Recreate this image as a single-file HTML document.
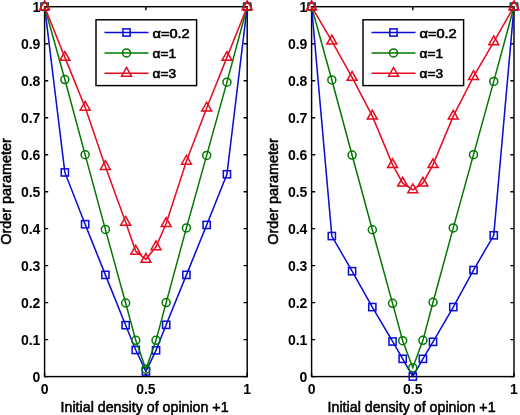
<!DOCTYPE html>
<html><head><meta charset="utf-8"><style>
html,body{margin:0;padding:0;background:#fff;}
svg{display:block;}
text{font-family:"Liberation Sans",sans-serif;fill:#000;}
.yt{font-size:14px;font-weight:bold;}
.xt{font-size:14px;font-weight:bold;}
.lab{font-size:14.3px;font-weight:normal;stroke:#000;stroke-width:0.55px;}
.ylab{font-size:14.5px;font-weight:normal;stroke:#000;stroke-width:0.55px;}
.lg{font-size:12.5px;font-weight:normal;stroke:#000;stroke-width:0.6px;}
</style></head><body>
<svg width="520" height="415" viewBox="0 0 520 415">
<defs><filter id="b" filterUnits="userSpaceOnUse" x="0" y="0" width="520" height="415"><feGaussianBlur stdDeviation="0.35"/></filter></defs>
<rect width="520" height="415" fill="#fff"/>
<g filter="url(#b)">
<rect x="44.6" y="6.7" width="202.6" height="369.9" fill="none" stroke="#000" stroke-width="1.45"/>
<path d="M44.6 376.6h3.6M247.2 376.6h-3.6M44.6 339.61h3.6M247.2 339.61h-3.6M44.6 302.62h3.6M247.2 302.62h-3.6M44.6 265.63h3.6M247.2 265.63h-3.6M44.6 228.64h3.6M247.2 228.64h-3.6M44.6 191.65h3.6M247.2 191.65h-3.6M44.6 154.66h3.6M247.2 154.66h-3.6M44.6 117.67h3.6M247.2 117.67h-3.6M44.6 80.68h3.6M247.2 80.68h-3.6M44.6 43.69h3.6M247.2 43.69h-3.6M44.6 6.7h3.6M247.2 6.7h-3.6M44.6 376.6v-3.6M44.6 6.7v3.6M145.9 376.6v-3.6M145.9 6.7v3.6M247.2 376.6v-3.6M247.2 6.7v3.6" stroke="#000" stroke-width="1.45" fill="none"/>
<text x="40.4" y="381.5" text-anchor="end" class="yt">0</text>
<text x="40.4" y="344.51" text-anchor="end" class="yt">0.1</text>
<text x="40.4" y="307.52" text-anchor="end" class="yt">0.2</text>
<text x="40.4" y="270.53" text-anchor="end" class="yt">0.3</text>
<text x="40.4" y="233.54" text-anchor="end" class="yt">0.4</text>
<text x="40.4" y="196.55" text-anchor="end" class="yt">0.5</text>
<text x="40.4" y="159.56" text-anchor="end" class="yt">0.6</text>
<text x="40.4" y="122.57" text-anchor="end" class="yt">0.7</text>
<text x="40.4" y="85.58" text-anchor="end" class="yt">0.8</text>
<text x="40.4" y="48.59" text-anchor="end" class="yt">0.9</text>
<text x="40.4" y="11.6" text-anchor="end" class="yt">1</text>
<text x="44.6" y="394.2" text-anchor="middle" class="xt">0</text>
<text x="145.9" y="394.2" text-anchor="middle" class="xt">0.5</text>
<text x="247.2" y="394.2" text-anchor="middle" class="xt">1</text>
<polyline points="44.6,6.7 64.86,172.42 85.12,224.2 105.38,274.88 125.64,325.18 135.77,349.97 145.9,371.42 156.03,350.34 166.16,324.81 186.42,274.88 206.68,224.94 226.94,174.26 247.2,6.7" fill="none" stroke="#0808d8" stroke-width="1.5"/>
<rect x="41" y="3.1" width="7.2" height="7.2" fill="none" stroke="#0808d8" stroke-width="1.5"/>
<rect x="61.26" y="168.82" width="7.2" height="7.2" fill="none" stroke="#0808d8" stroke-width="1.5"/>
<rect x="81.52" y="220.6" width="7.2" height="7.2" fill="none" stroke="#0808d8" stroke-width="1.5"/>
<rect x="101.78" y="271.28" width="7.2" height="7.2" fill="none" stroke="#0808d8" stroke-width="1.5"/>
<rect x="122.04" y="321.58" width="7.2" height="7.2" fill="none" stroke="#0808d8" stroke-width="1.5"/>
<rect x="132.17" y="346.37" width="7.2" height="7.2" fill="none" stroke="#0808d8" stroke-width="1.5"/>
<rect x="142.3" y="367.82" width="7.2" height="7.2" fill="none" stroke="#0808d8" stroke-width="1.5"/>
<rect x="152.43" y="346.74" width="7.2" height="7.2" fill="none" stroke="#0808d8" stroke-width="1.5"/>
<rect x="162.56" y="321.21" width="7.2" height="7.2" fill="none" stroke="#0808d8" stroke-width="1.5"/>
<rect x="182.82" y="271.28" width="7.2" height="7.2" fill="none" stroke="#0808d8" stroke-width="1.5"/>
<rect x="203.08" y="221.34" width="7.2" height="7.2" fill="none" stroke="#0808d8" stroke-width="1.5"/>
<rect x="223.34" y="170.66" width="7.2" height="7.2" fill="none" stroke="#0808d8" stroke-width="1.5"/>
<rect x="243.6" y="3.1" width="7.2" height="7.2" fill="none" stroke="#0808d8" stroke-width="1.5"/>
<polyline points="44.6,6.7 64.86,79.57 85.12,154.66 105.38,229.38 125.64,302.99 135.77,340.35 145.9,369.2 156.03,340.35 166.16,302.62 186.42,227.9 206.68,155.4 226.94,82.16 247.2,6.7" fill="none" stroke="#007800" stroke-width="1.5"/>
<circle cx="44.6" cy="6.7" r="4.0" fill="none" stroke="#007800" stroke-width="1.5"/>
<circle cx="64.86" cy="79.57" r="4.0" fill="none" stroke="#007800" stroke-width="1.5"/>
<circle cx="85.12" cy="154.66" r="4.0" fill="none" stroke="#007800" stroke-width="1.5"/>
<circle cx="105.38" cy="229.38" r="4.0" fill="none" stroke="#007800" stroke-width="1.5"/>
<circle cx="125.64" cy="302.99" r="4.0" fill="none" stroke="#007800" stroke-width="1.5"/>
<circle cx="135.77" cy="340.35" r="4.0" fill="none" stroke="#007800" stroke-width="1.5"/>
<circle cx="145.9" cy="369.2" r="4.0" fill="none" stroke="#007800" stroke-width="1.5"/>
<circle cx="156.03" cy="340.35" r="4.0" fill="none" stroke="#007800" stroke-width="1.5"/>
<circle cx="166.16" cy="302.62" r="4.0" fill="none" stroke="#007800" stroke-width="1.5"/>
<circle cx="186.42" cy="227.9" r="4.0" fill="none" stroke="#007800" stroke-width="1.5"/>
<circle cx="206.68" cy="155.4" r="4.0" fill="none" stroke="#007800" stroke-width="1.5"/>
<circle cx="226.94" cy="82.16" r="4.0" fill="none" stroke="#007800" stroke-width="1.5"/>
<circle cx="247.2" cy="6.7" r="4.0" fill="none" stroke="#007800" stroke-width="1.5"/>
<polyline points="44.6,6.7 64.86,57.38 85.12,107.31 105.38,166.5 125.64,222.35 135.77,251.2 145.9,259.34 156.03,246.77 166.16,223.46 186.42,161.32 206.68,108.05 226.94,57.38 247.2,6.7" fill="none" stroke="#e8081e" stroke-width="1.5"/>
<path d="M44.6 0.83L49.55 9.63L39.65 9.63Z" fill="none" stroke="#e8081e" stroke-width="1.5" stroke-linejoin="miter"/>
<path d="M64.86 51.51L69.81 60.31L59.91 60.31Z" fill="none" stroke="#e8081e" stroke-width="1.5" stroke-linejoin="miter"/>
<path d="M85.12 101.45L90.07 110.25L80.17 110.25Z" fill="none" stroke="#e8081e" stroke-width="1.5" stroke-linejoin="miter"/>
<path d="M105.38 160.63L110.33 169.43L100.43 169.43Z" fill="none" stroke="#e8081e" stroke-width="1.5" stroke-linejoin="miter"/>
<path d="M125.64 216.49L130.59 225.29L120.69 225.29Z" fill="none" stroke="#e8081e" stroke-width="1.5" stroke-linejoin="miter"/>
<path d="M135.77 245.34L140.72 254.14L130.82 254.14Z" fill="none" stroke="#e8081e" stroke-width="1.5" stroke-linejoin="miter"/>
<path d="M145.9 253.48L150.85 262.28L140.95 262.28Z" fill="none" stroke="#e8081e" stroke-width="1.5" stroke-linejoin="miter"/>
<path d="M156.03 240.9L160.98 249.7L151.08 249.7Z" fill="none" stroke="#e8081e" stroke-width="1.5" stroke-linejoin="miter"/>
<path d="M166.16 217.59L171.11 226.39L161.21 226.39Z" fill="none" stroke="#e8081e" stroke-width="1.5" stroke-linejoin="miter"/>
<path d="M186.42 155.45L191.37 164.25L181.47 164.25Z" fill="none" stroke="#e8081e" stroke-width="1.5" stroke-linejoin="miter"/>
<path d="M206.68 102.19L211.63 110.99L201.73 110.99Z" fill="none" stroke="#e8081e" stroke-width="1.5" stroke-linejoin="miter"/>
<path d="M226.94 51.51L231.89 60.31L221.99 60.31Z" fill="none" stroke="#e8081e" stroke-width="1.5" stroke-linejoin="miter"/>
<path d="M247.2 0.83L252.15 9.63L242.25 9.63Z" fill="none" stroke="#e8081e" stroke-width="1.5" stroke-linejoin="miter"/>
<rect x="96" y="19.8" width="100.6" height="65.8" fill="#fff" stroke="#000" stroke-width="1.45"/>
<line x1="104.5" y1="32.5" x2="148.5" y2="32.5" stroke="#0808d8" stroke-width="1.5"/>
<rect x="122.9" y="28.9" width="7.2" height="7.2" fill="none" stroke="#0808d8" stroke-width="1.5"/>
<text x="152.5" y="37.5" textLength="37.2" lengthAdjust="spacingAndGlyphs" class="lg">&#945;=0.2</text>
<line x1="104.5" y1="52.9" x2="148.5" y2="52.9" stroke="#007800" stroke-width="1.5"/>
<circle cx="126.5" cy="52.9" r="4.0" fill="none" stroke="#007800" stroke-width="1.5"/>
<text x="152.5" y="57.9" textLength="23.5" lengthAdjust="spacingAndGlyphs" class="lg">&#945;=1</text>
<line x1="104.5" y1="73.3" x2="148.5" y2="73.3" stroke="#e8081e" stroke-width="1.5"/>
<path d="M126.5 67.43L131.45 76.23L121.55 76.23Z" fill="none" stroke="#e8081e" stroke-width="1.5" stroke-linejoin="miter"/>
<text x="152.5" y="78.3" textLength="23.5" lengthAdjust="spacingAndGlyphs" class="lg">&#945;=3</text>
<text x="60.6" y="411.5" textLength="168" lengthAdjust="spacingAndGlyphs" class="lab">Initial density of opinion +1</text>
<text transform="translate(10.6 191.5) rotate(-90)" text-anchor="middle" textLength="106.5" lengthAdjust="spacingAndGlyphs" class="ylab">Order parameter</text>
<rect x="311.6" y="6.7" width="202.4" height="369.9" fill="none" stroke="#000" stroke-width="1.45"/>
<path d="M311.6 376.6h3.6M514.0 376.6h-3.6M311.6 339.61h3.6M514.0 339.61h-3.6M311.6 302.62h3.6M514.0 302.62h-3.6M311.6 265.63h3.6M514.0 265.63h-3.6M311.6 228.64h3.6M514.0 228.64h-3.6M311.6 191.65h3.6M514.0 191.65h-3.6M311.6 154.66h3.6M514.0 154.66h-3.6M311.6 117.67h3.6M514.0 117.67h-3.6M311.6 80.68h3.6M514.0 80.68h-3.6M311.6 43.69h3.6M514.0 43.69h-3.6M311.6 6.7h3.6M514.0 6.7h-3.6M311.6 376.6v-3.6M311.6 6.7v3.6M412.8 376.6v-3.6M412.8 6.7v3.6M514 376.6v-3.6M514 6.7v3.6" stroke="#000" stroke-width="1.45" fill="none"/>
<text x="307.4" y="381.5" text-anchor="end" class="yt">0</text>
<text x="307.4" y="344.51" text-anchor="end" class="yt">0.1</text>
<text x="307.4" y="307.52" text-anchor="end" class="yt">0.2</text>
<text x="307.4" y="270.53" text-anchor="end" class="yt">0.3</text>
<text x="307.4" y="233.54" text-anchor="end" class="yt">0.4</text>
<text x="307.4" y="196.55" text-anchor="end" class="yt">0.5</text>
<text x="307.4" y="159.56" text-anchor="end" class="yt">0.6</text>
<text x="307.4" y="122.57" text-anchor="end" class="yt">0.7</text>
<text x="307.4" y="85.58" text-anchor="end" class="yt">0.8</text>
<text x="307.4" y="48.59" text-anchor="end" class="yt">0.9</text>
<text x="307.4" y="11.6" text-anchor="end" class="yt">1</text>
<text x="311.6" y="394.2" text-anchor="middle" class="xt">0</text>
<text x="412.8" y="394.2" text-anchor="middle" class="xt">0.5</text>
<text x="514" y="394.2" text-anchor="middle" class="xt">1</text>
<polyline points="311.6,6.7 331.84,236.04 352.08,271.18 372.32,307.06 392.56,341.46 402.68,358.84 412.8,376.6 422.92,358.84 433.04,341.83 453.28,307.06 473.52,270.07 493.76,235.3 514,6.7" fill="none" stroke="#0808d8" stroke-width="1.5"/>
<rect x="308" y="3.1" width="7.2" height="7.2" fill="none" stroke="#0808d8" stroke-width="1.5"/>
<rect x="328.24" y="232.44" width="7.2" height="7.2" fill="none" stroke="#0808d8" stroke-width="1.5"/>
<rect x="348.48" y="267.58" width="7.2" height="7.2" fill="none" stroke="#0808d8" stroke-width="1.5"/>
<rect x="368.72" y="303.46" width="7.2" height="7.2" fill="none" stroke="#0808d8" stroke-width="1.5"/>
<rect x="388.96" y="337.86" width="7.2" height="7.2" fill="none" stroke="#0808d8" stroke-width="1.5"/>
<rect x="399.08" y="355.24" width="7.2" height="7.2" fill="none" stroke="#0808d8" stroke-width="1.5"/>
<rect x="409.2" y="373" width="7.2" height="7.2" fill="none" stroke="#0808d8" stroke-width="1.5"/>
<rect x="419.32" y="355.24" width="7.2" height="7.2" fill="none" stroke="#0808d8" stroke-width="1.5"/>
<rect x="429.44" y="338.23" width="7.2" height="7.2" fill="none" stroke="#0808d8" stroke-width="1.5"/>
<rect x="449.68" y="303.46" width="7.2" height="7.2" fill="none" stroke="#0808d8" stroke-width="1.5"/>
<rect x="469.92" y="266.47" width="7.2" height="7.2" fill="none" stroke="#0808d8" stroke-width="1.5"/>
<rect x="490.16" y="231.7" width="7.2" height="7.2" fill="none" stroke="#0808d8" stroke-width="1.5"/>
<rect x="510.4" y="3.1" width="7.2" height="7.2" fill="none" stroke="#0808d8" stroke-width="1.5"/>
<polyline points="311.6,6.7 331.84,79.94 352.08,155.03 372.32,229.75 392.56,303.36 402.68,340.72 412.8,367.72 422.92,340.35 433.04,302.25 453.28,227.9 473.52,154.66 493.76,81.42 514,6.7" fill="none" stroke="#007800" stroke-width="1.5"/>
<circle cx="311.6" cy="6.7" r="4.0" fill="none" stroke="#007800" stroke-width="1.5"/>
<circle cx="331.84" cy="79.94" r="4.0" fill="none" stroke="#007800" stroke-width="1.5"/>
<circle cx="352.08" cy="155.03" r="4.0" fill="none" stroke="#007800" stroke-width="1.5"/>
<circle cx="372.32" cy="229.75" r="4.0" fill="none" stroke="#007800" stroke-width="1.5"/>
<circle cx="392.56" cy="303.36" r="4.0" fill="none" stroke="#007800" stroke-width="1.5"/>
<circle cx="402.68" cy="340.72" r="4.0" fill="none" stroke="#007800" stroke-width="1.5"/>
<circle cx="412.8" cy="367.72" r="4.0" fill="none" stroke="#007800" stroke-width="1.5"/>
<circle cx="422.92" cy="340.35" r="4.0" fill="none" stroke="#007800" stroke-width="1.5"/>
<circle cx="433.04" cy="302.25" r="4.0" fill="none" stroke="#007800" stroke-width="1.5"/>
<circle cx="453.28" cy="227.9" r="4.0" fill="none" stroke="#007800" stroke-width="1.5"/>
<circle cx="473.52" cy="154.66" r="4.0" fill="none" stroke="#007800" stroke-width="1.5"/>
<circle cx="493.76" cy="81.42" r="4.0" fill="none" stroke="#007800" stroke-width="1.5"/>
<circle cx="514" cy="6.7" r="4.0" fill="none" stroke="#007800" stroke-width="1.5"/>
<polyline points="311.6,6.7 331.84,41.1 352.08,77.35 372.32,116.19 392.56,164.65 402.68,183.14 412.8,189.8 422.92,183.14 433.04,164.65 453.28,116.19 473.52,76.61 493.76,41.84 514,6.7" fill="none" stroke="#e8081e" stroke-width="1.5"/>
<path d="M311.6 0.83L316.55 9.63L306.65 9.63Z" fill="none" stroke="#e8081e" stroke-width="1.5" stroke-linejoin="miter"/>
<path d="M331.84 35.23L336.79 44.03L326.89 44.03Z" fill="none" stroke="#e8081e" stroke-width="1.5" stroke-linejoin="miter"/>
<path d="M352.08 71.48L357.03 80.28L347.13 80.28Z" fill="none" stroke="#e8081e" stroke-width="1.5" stroke-linejoin="miter"/>
<path d="M372.32 110.32L377.27 119.12L367.37 119.12Z" fill="none" stroke="#e8081e" stroke-width="1.5" stroke-linejoin="miter"/>
<path d="M392.56 158.78L397.51 167.58L387.61 167.58Z" fill="none" stroke="#e8081e" stroke-width="1.5" stroke-linejoin="miter"/>
<path d="M402.68 177.28L407.63 186.08L397.73 186.08Z" fill="none" stroke="#e8081e" stroke-width="1.5" stroke-linejoin="miter"/>
<path d="M412.8 183.93L417.75 192.73L407.85 192.73Z" fill="none" stroke="#e8081e" stroke-width="1.5" stroke-linejoin="miter"/>
<path d="M422.92 177.28L427.87 186.08L417.97 186.08Z" fill="none" stroke="#e8081e" stroke-width="1.5" stroke-linejoin="miter"/>
<path d="M433.04 158.78L437.99 167.58L428.09 167.58Z" fill="none" stroke="#e8081e" stroke-width="1.5" stroke-linejoin="miter"/>
<path d="M453.28 110.32L458.23 119.12L448.33 119.12Z" fill="none" stroke="#e8081e" stroke-width="1.5" stroke-linejoin="miter"/>
<path d="M473.52 70.74L478.47 79.54L468.57 79.54Z" fill="none" stroke="#e8081e" stroke-width="1.5" stroke-linejoin="miter"/>
<path d="M493.76 35.97L498.71 44.77L488.81 44.77Z" fill="none" stroke="#e8081e" stroke-width="1.5" stroke-linejoin="miter"/>
<path d="M514 0.83L518.95 9.63L509.05 9.63Z" fill="none" stroke="#e8081e" stroke-width="1.5" stroke-linejoin="miter"/>
<rect x="363" y="19.8" width="100.6" height="65.8" fill="#fff" stroke="#000" stroke-width="1.45"/>
<line x1="371.5" y1="32.5" x2="415.5" y2="32.5" stroke="#0808d8" stroke-width="1.5"/>
<rect x="389.9" y="28.9" width="7.2" height="7.2" fill="none" stroke="#0808d8" stroke-width="1.5"/>
<text x="419.5" y="37.5" textLength="37.2" lengthAdjust="spacingAndGlyphs" class="lg">&#945;=0.2</text>
<line x1="371.5" y1="52.9" x2="415.5" y2="52.9" stroke="#007800" stroke-width="1.5"/>
<circle cx="393.5" cy="52.9" r="4.0" fill="none" stroke="#007800" stroke-width="1.5"/>
<text x="419.5" y="57.9" textLength="23.5" lengthAdjust="spacingAndGlyphs" class="lg">&#945;=1</text>
<line x1="371.5" y1="73.3" x2="415.5" y2="73.3" stroke="#e8081e" stroke-width="1.5"/>
<path d="M393.5 67.43L398.45 76.23L388.55 76.23Z" fill="none" stroke="#e8081e" stroke-width="1.5" stroke-linejoin="miter"/>
<text x="419.5" y="78.3" textLength="23.5" lengthAdjust="spacingAndGlyphs" class="lg">&#945;=3</text>
<text x="327.6" y="411.5" textLength="168" lengthAdjust="spacingAndGlyphs" class="lab">Initial density of opinion +1</text>
<text transform="translate(277.6 191.5) rotate(-90)" text-anchor="middle" textLength="106.5" lengthAdjust="spacingAndGlyphs" class="ylab">Order parameter</text>
</g>
</svg>
</body></html>
